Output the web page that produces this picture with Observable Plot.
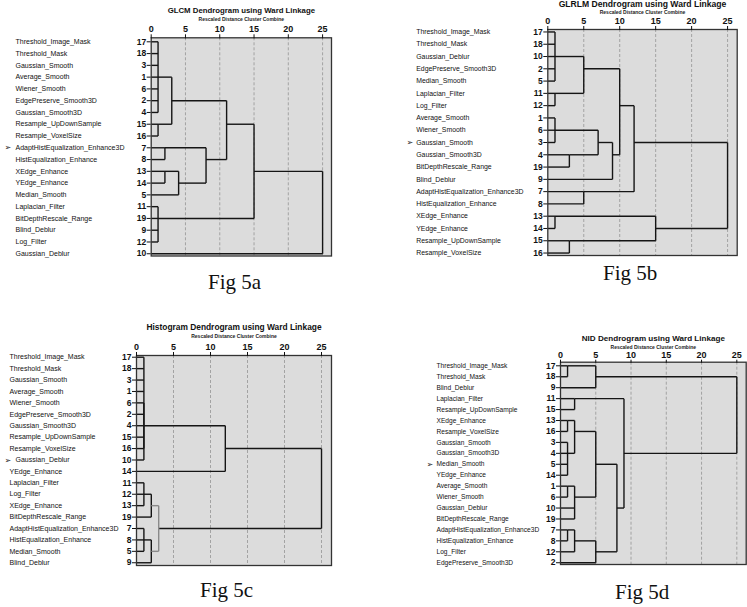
<!DOCTYPE html>
<html><head><meta charset="utf-8">
<script src="https://cdn.jsdelivr.net/npm/d3@7"></script>
<script src="https://cdn.jsdelivr.net/npm/@observablehq/plot@0.6"></script>
<style>
body{margin:0;background:#fff;}
#wrap{position:relative;width:747px;height:607px;overflow:hidden;background:#fff;}
.panel{position:absolute;}
.cap{position:absolute;font-family:"Liberation Serif","Times New Roman",serif;font-size:21px;line-height:21px;color:#111;white-space:nowrap;}
</style></head><body><div id="wrap"></div>
<script>
// ---------- DATA ----------
const subtitle = "Rescaled Distance Cluster Combine";
const xTicks = [0, 5, 10, 15, 20, 25];
const gridTicks = [5, 10, 15, 20, 25];
const captions = ["Fig 5a", "Fig 5b", "Fig 5c", "Fig 5d"];

// GLCM
const glcmTitle = "GLCM Dendrogram using Ward Linkage";
const glcmNums = [17,18,3,1,6,2,4,15,16,7,8,13,14,5,11,19,9,12,10];
const glcmNames = ["Threshold_Image_Mask","Threshold_Mask","Gaussian_Smooth","Average_Smooth","Wiener_Smooth","EdgePreserve_Smooth3D","Gaussian_Smooth3D","Resample_UpDownSample","Resample_VoxelSize","AdaptHistEqualization_Enhance3D","HistEqualization_Enhance","XEdge_Enhance","YEdge_Enhance","Median_Smooth","Laplacian_Filter","BitDepthRescale_Range","Blind_Deblur","Log_Filter","Gaussian_Deblur"];
// [distance, ...children]; number = leaf id, "mK" = earlier merge K
const glcmMerges = [
  [1, 17,18,3,1,6,2,4],
  [1, 15,16],
  [3, "m0","m1"],
  [2, 7,8],
  [2, 13,14],
  [4, "m4",5],
  [8, "m3","m5"],
  [11, "m2","m6"],
  [1, 11,19,9,12],
  [15, "m7","m8"],
  [25, "m9",10]
];
const glcmMarked = 7;

// GLRLM
const glrlmTitle = "GLRLM Dendrogram using Ward Linkage";
const glrlmNums = [17,18,10,2,5,11,12,1,6,3,4,19,9,7,8,13,14,15,16];
const glrlmNames = ["Threshold_Image_Mask","Threshold_Mask","Gaussian_Deblur","EdgePreserve_Smooth3D","Median_Smooth","Laplacian_Filter","Log_Filter","Average_Smooth","Wiener_Smooth","Gaussian_Smooth","Gaussian_Smooth3D","BitDepthRescale_Range","Blind_Deblur","AdaptHistEqualization_Enhance3D","HistEqualization_Enhance","XEdge_Enhance","YEdge_Enhance","Resample_UpDownSample","Resample_VoxelSize"];
const glrlmMerges = [
  [1, 17,18,10,2,5],
  [1, 11,12],
  [5, "m0","m1"],
  [1, 1,6,3],
  [3, 4,19],
  [7, "m3","m4"],
  [9, "m5",9],
  [10, "m2","m6"],
  [5, 7,8],
  [12, "m7","m8"],
  [1, 13,14],
  [3, 15,16],
  [15, "m10","m11"],
  [25, "m9","m12"]
];
const glrlmMarked = 3;

// Histogram
const histTitle = "Histogram Dendrogram using Ward Linkage";
const histNums = [17,18,3,1,6,2,4,15,16,10,14,11,12,13,19,7,8,5,9];
const histNames = ["Threshold_Image_Mask","Threshold_Mask","Gaussian_Smooth","Average_Smooth","Wiener_Smooth","EdgePreserve_Smooth3D","Gaussian_Smooth3D","Resample_UpDownSample","Resample_VoxelSize","Gaussian_Deblur","YEdge_Enhance","Laplacian_Filter","Log_Filter","XEdge_Enhance","BitDepthRescale_Range","AdaptHistEqualization_Enhance3D","HistEqualization_Enhance","Median_Smooth","Blind_Deblur"];
const histMerges = [
  [1, 17,18,3,1,6,2,4,15,16],
  [1, "m0",10],
  [12, "m1",14],
  [1, 11,12,13],
  [2, "m3",19],
  [1, 7,8,5],
  [2, "m5",9],
  [3, "m4","m6"],
  [25, "m2","m7"]
];
const histMarked = 10;
const histHighlight = 7;

// NID
const nidTitle = "NID Dendrogram using Ward Linkage";
const nidNums = [17,18,9,11,15,13,16,3,4,5,14,1,6,10,19,7,8,12,2];
const nidNames = ["Threshold_Image_Mask","Threshold_Mask","Blind_Deblur","Laplacian_Filter","Resample_UpDownSample","XEdge_Enhance","Resample_VoxelSize","Gaussian_Smooth","Gaussian_Smooth3D","Median_Smooth","YEdge_Enhance","Average_Smooth","Wiener_Smooth","Gaussian_Deblur","BitDepthRescale_Range","AdaptHistEqualization_Enhance3D","HistEqualization_Enhance","Log_Filter","EdgePreserve_Smooth3D"];
const nidMerges = [
  [1, 17,18],
  [5, "m0",9],
  [2, 11,15],
  [1, 13,16],
  [1, 3,4,5,14],
  [2, "m3","m4"],
  [1, 1,6],
  [2, "m6",10,19],
  [5, "m5","m7"],
  [1, 7,8],
  [2, "m9",12],
  [5, "m10",2],
  [8, "m8","m11"],
  [9, "m2","m12"],
  [25, "m1","m13"]
];
const nidMarked = 5;

// ---------- LAYOUT ----------
const layouts = [
  {title: glcmTitle, nums: glcmNums, names: glcmNames, merges: glcmMerges, marked: glcmMarked, hl: -1,
   left:0, top:0, width:370, height:260, mL:150.7, mR:39, mT:37.3, mB:4.5, xMax:26.3, padTop:0.34, padBot:0.19,
   titleDy:-27.3, subDy:-18.3, tick:4, tickPad:2, labelX:15, arrowX:4, markX:15, titleSize:7.8, labelSize:7},
  {title: glrlmTitle, nums: glrlmNums, names: glrlmNames, merges: glrlmMerges, marked: glrlmMarked, hl: -1,
   left:370, top:0, width:377, height:260, mL:177.3, mR:10.3, mT:29, mB:5, xMax:26.34, padTop:0.2, padBot:0.2,
   titleDy:-25, subDy:-17.3, tick:4, tickPad:2, labelX:415.7, arrowX:406, markX:415.7, titleSize:8.6, labelSize:6.9},
  {title: histTitle, nums: histNums, names: histNames, merges: histMerges, marked: histMarked, hl: histHighlight,
   left:0, top:300, width:370, height:270, mL:136, mR:39, mT:55, mB:5, xMax:26.35, padTop:0.15, padBot:0.24,
   titleDy:-28.3, subDy:-19, tick:4, tickPad:1.5, labelX:9, arrowX:4, markX:15, titleSize:8.4, labelSize:7},
  {title: nidTitle, nums: nidNums, names: nidNames, merges: nidMerges, marked: nidMarked, hl: -1,
   left:370, top:300, width:377, height:270, mL:190, mR:1.3, mT:61.7, mB:6, xMax:26.33, padTop:0.33, padBot:0.16,
   titleDy:-23.4, subDy:-15, tick:3, tickPad:1, labelX:436, arrowX:426, markX:436, titleSize:8.1, labelSize:6.6}
];
const capPos = [[208,272],[603,263],[200,580],[615,582]];

function buildSegments(nums, merges, highlight) {
  const idx = new Map(nums.map((n, i) => [n, i]));
  const nodes = [];
  const segs = [];
  merges.forEach((m, k) => {
    const [h, ...kids] = m;
    const pts = kids.map(c => typeof c === "string" ? nodes[+c.slice(1)] : {x: 0, y: idx.get(c)});
    const hl = highlight === k;
    for (const p of pts) if (h - p.x > 1e-9) segs.push({x1: p.x, x2: h, y1: p.y, y2: p.y, hl});
    const ys = pts.map(p => p.y);
    const y0 = Math.min(...ys), y1 = Math.max(...ys);
    segs.push({x1: h, x2: h, y1: y0, y2: y1, hl});
    nodes.push({x: h, y: Math.floor((y0 + y1) / 2)});
  });
  return segs;
}

const wrap = document.getElementById("wrap");
layouts.forEach((L, pi) => {
  const n = L.nums.length;
  const rows = d3.range(n);
  const segs = buildSegments(L.nums, L.merges, L.hl);
  const frameLeft = L.left + L.mL;
  const markedIdx = L.nums.indexOf(L.marked);
  const chart = Plot.plot({
    width: L.width, height: L.height,
    marginLeft: L.mL, marginRight: L.mR, marginTop: L.mT, marginBottom: L.mB,
    style: {fontFamily: "'Liberation Sans', Arial, sans-serif", background: "transparent", overflow: "visible", color: "#111"},
    x: {domain: [0, L.xMax]},
    y: {domain: [-L.padTop, n - 1 + L.padBot], reverse: true},
    marks: [
      Plot.frame({fill: "#dcdcdc", stroke: "none"}),
      Plot.gridX({ticks: gridTicks, stroke: "#9c9c9c", strokeOpacity: 1, strokeDasharray: "3,2", strokeWidth: 0.9}),
      Plot.link(segs.filter(d => !d.hl), {x1: "x1", y1: "y1", x2: "x2", y2: "y2", stroke: "#151515", strokeWidth: 1.4}),
      Plot.link(segs.filter(d => d.hl), {x1: "x1", y1: "y1", x2: "x2", y2: "y2", stroke: "#8a8a8a", strokeWidth: 1.4}),
      Plot.frame({stroke: "#333", strokeWidth: 1.3}),
      Plot.axisX({anchor: "top", ticks: xTicks, tickSize: L.tick, tickPadding: L.tickPad, fontSize: 9, fontWeight: "bold", label: null}),
      Plot.axisY({anchor: "left", ticks: rows, tickFormat: i => L.nums[i], tickSize: 4, tickPadding: 1, fontSize: 8.5, fontWeight: "bold", label: null}),
      Plot.text(rows.filter(i => i !== markedIdx), {x: () => 0, y: i => i, text: i => L.names[i], textAnchor: "start",
        dx: L.labelX - frameLeft, fontSize: L.labelSize, fill: "#111"}),
      Plot.text([markedIdx], {x: () => 0, y: i => i, text: i => L.names[i], textAnchor: "start",
        dx: L.markX - frameLeft, fontSize: L.labelSize, fill: "#111"}),
      Plot.text([markedIdx], {x: () => 0, y: i => i, text: () => "➢", textAnchor: "start",
        dx: L.arrowX - frameLeft, fontSize: 8, fill: "#222", fontFamily: "DejaVu Sans"}),
      Plot.text([L.title], {frameAnchor: "top", dy: L.titleDy, text: d => d, fontSize: L.titleSize, fontWeight: "bold", lineAnchor: "middle", fill: "#111"}),
      Plot.text([subtitle], {frameAnchor: "top", dy: L.subDy, text: d => d, fontSize: 5, fontWeight: "bold", lineAnchor: "middle", fill: "#222"})
    ]
  });
  const div = document.createElement("div");
  div.className = "panel";
  div.style.left = L.left + "px";
  div.style.top = L.top + "px";
  div.appendChild(chart);
  wrap.appendChild(div);

  const cap = document.createElement("div");
  cap.className = "cap";
  cap.textContent = captions[pi];
  cap.style.left = capPos[pi][0] + "px";
  cap.style.top = capPos[pi][1] + "px";
  wrap.appendChild(cap);
});
</script></body></html>
